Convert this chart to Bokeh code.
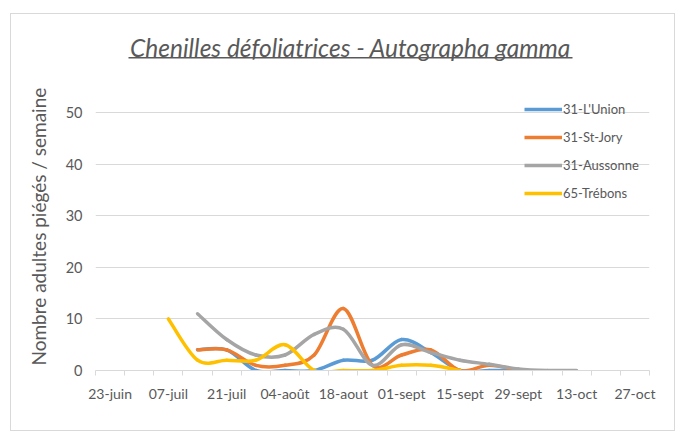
import numpy as np
import pandas as pd
from bokeh.plotting import figure
from bokeh.models import (ColumnDataSource, Range1d, FixedTicker, Legend, LegendItem,
                          Label, Arrow, Title)
from bokeh.embed import file_html
from bokeh.resources import INLINE

# ---------------- data ----------------
week_dates = ["2019-07-07", "2019-07-14", "2019-07-21", "2019-07-28", "2019-08-04",
              "2019-08-11", "2019-08-18", "2019-08-25", "2019-09-01", "2019-09-08",
              "2019-09-15", "2019-09-22", "2019-09-29", "2019-10-06", "2019-10-13"]

union    = [None, 4, 4, 0, 0, 0, 2, 2, 6, 3.5, 0, 0, 0, None, None]
st_jory  = [None, 4, 4, 1, 1, 3, 12, 1, 3, 4, 0, 1, 0, None, None]
aussonne = [None, 11, 6, 3, 3, 7, 8, 1, 5, 3.5, 2, 1.2, 0.3, 0, 0]
trebons  = [10, 2, 2, 2, 5, 0, 0, 0, 1, 1, 0, None, None, None, None]

series_names = ["31-L'Union", "31-St-Jory", "31-Aussonne", "65-Trébons"]
series_values = [union, st_jory, aussonne, trebons]
series_colors = ["#5B9BD5", "#ED7D31", "#A5A5A5", "#FFC000"]

tick_dates = ["2019-06-23", "2019-07-07", "2019-07-21", "2019-08-04", "2019-08-18",
              "2019-09-01", "2019-09-15", "2019-09-29", "2019-10-13", "2019-10-27"]
tick_labels = ["23-juin", "07-juil", "21-juil", "04-août", "18-aout",
               "01-sept", "15-sept", "29-sept", "13-oct", "27-oct"]
y_ticks = [0, 10, 20, 30, 40, 50]

TITLE = "Chenilles défoliatrices - Autographa gamma"
Y_LABEL = "Nombre adultes piégés / semaine"

# ---------------- layout constants (pixels) ----------------
FRAME_H = 356        # frame spans from canvas top to the x axis
AXIS_SPAN = 258      # pixels between y=0 and y=50 gridlines

# ---------------- helpers ----------------
DAY = 86400000.0


def to_ms(dates):
    return pd.to_datetime(dates).values.astype("datetime64[ms]").astype(np.int64).astype(float)


def clean(xs, ys):
    pts = [(x, y) for x, y in zip(xs, ys) if y is not None]
    return (np.array([q[0] for q in pts], dtype=float),
            np.array([q[1] for q in pts], dtype=float))


def bezier_source(x, y):
    n = len(x)
    d = dict(x0=[], y0=[], x1=[], y1=[], cx0=[], cy0=[], cx1=[], cy1=[])
    for i in range(n - 1):
        a = max(i - 1, 0)
        b = min(i + 2, n - 1)
        d["x0"].append(x[i]); d["y0"].append(y[i])
        d["x1"].append(x[i + 1]); d["y1"].append(y[i + 1])
        d["cx0"].append(x[i] + (x[i + 1] - x[a]) / 6.0)
        d["cy0"].append(y[i] + (y[i + 1] - y[a]) / 6.0)
        d["cx1"].append(x[i + 1] - (x[b] - x[i]) / 6.0)
        d["cy1"].append(y[i + 1] - (y[b] - y[i]) / 6.0)
    return ColumnDataSource(d)


x_week = to_ms(week_dates)
x_ticks = to_ms(tick_dates)
x_start = x_ticks[0] - 3.5 * DAY
x_end = x_ticks[-1] + 3.5 * DAY
minor = list(np.arange(x_start, x_end + DAY, 7 * DAY))
y_top = y_ticks[-1] * FRAME_H / AXIS_SPAN

TEXT = "#595959"
GRID = "#D9D9D9"
FONT = "Lato"

p = figure(width=665, height=418, x_axis_type="datetime",
           x_range=Range1d(x_start, x_end), y_range=Range1d(0, y_top),
           output_backend="svg", toolbar_location=None,
           min_border_left=83, min_border_right=27, min_border_top=0, min_border_bottom=62,
           background_fill_color="white", border_fill_color="white")
p.outline_line_color = None
p.margin = (13, 0, 0, 10)
p.styles = {"border": "1px solid #D9D9D9"}

# x axis
xa = p.xaxis[0]
xa.ticker = FixedTicker(ticks=list(x_ticks), minor_ticks=minor)
xa.major_label_overrides = {float(t): lab for t, lab in zip(x_ticks, tick_labels)}
xa.axis_line_color = GRID
xa.major_tick_line_color = None
xa.major_tick_out = 0
xa.major_tick_in = 0
xa.minor_tick_line_color = GRID
xa.minor_tick_out = 5
xa.minor_tick_in = 0
xa.major_label_text_font = FONT
xa.major_label_text_font_size = "14px"
xa.major_label_text_color = TEXT
xa.major_label_standoff = 9

# y axis
ya = p.yaxis[0]
ya.ticker = FixedTicker(ticks=y_ticks, minor_ticks=[])
ya.axis_line_color = None
ya.major_tick_line_color = None
ya.minor_tick_line_color = None
ya.major_tick_out = 0
ya.major_tick_in = 0
ya.major_label_text_font = FONT
ya.major_label_text_font_size = "14.5px"
ya.major_label_text_color = TEXT
ya.major_label_standoff = 13

ytitle = Title(text=Y_LABEL, align="left", offset=5, standoff=26,
               text_font=FONT, text_font_size="19px", text_font_style="normal",
               text_color=TEXT)
p.add_layout(ytitle, "left")

p.xgrid.grid_line_color = None
p.ygrid.grid_line_color = GRID
p.ygrid.grid_line_width = 1

# series (smoothed lines)
items = []
for name, vals, col in zip(series_names, series_values, series_colors):
    xs, ys = clean(x_week, vals)
    src = bezier_source(xs, ys)
    p.bezier(x0="x0", y0="y0", x1="x1", y1="y1", cx0="cx0", cy0="cy0", cx1="cx1", cy1="cy1",
             source=src, line_color=col, line_width=3.5, line_cap="round")
    r = p.line(x=xs[:1], y=ys[:1], line_color=col, line_width=3.5)
    items.append(LegendItem(label=name, renderers=[r]))

legend = Legend(items=items, location=(429, 167), orientation="vertical",
                padding=0, margin=0, spacing=8, glyph_width=38, glyph_height=20,
                label_height=20, label_standoff=1, label_text_font=FONT,
                label_text_font_size="13px", label_text_color=TEXT,
                background_fill_alpha=0, border_line_alpha=0)
p.add_layout(legend)

# title (italic, underlined)
title = Label(x=255, y=323.5, x_units="screen", y_units="screen", text=TITLE,
              text_font=FONT, text_font_style="italic", text_font_size="24.5px",
              text_color=TEXT, text_align="center", text_baseline="middle")
p.add_layout(title)
underline = Arrow(end=None, x_start=33, y_start=312.7, x_end=477, y_end=312.7,
                  start_units="screen", end_units="screen", line_color=TEXT, line_width=1.5)
p.add_layout(underline)

open("out.html", "w").write(file_html(p, INLINE))
